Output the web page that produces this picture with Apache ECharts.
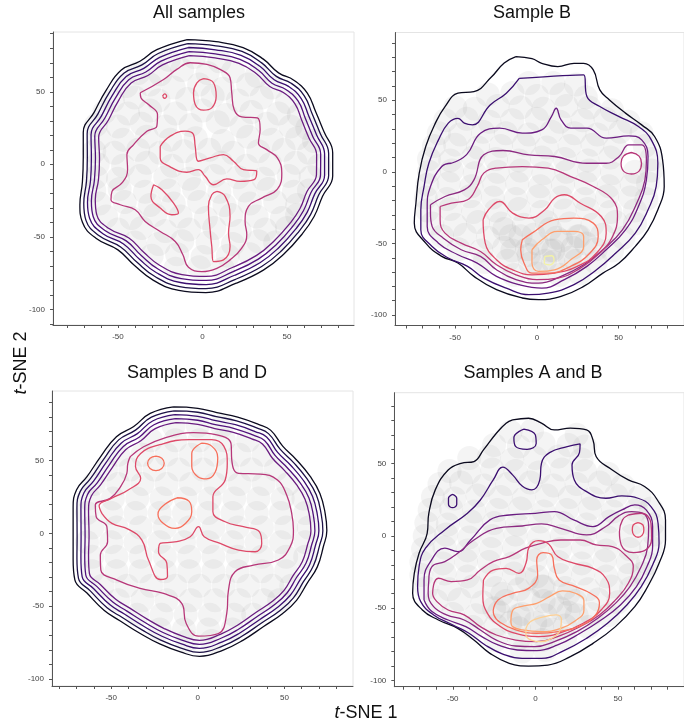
<!DOCTYPE html>
<html>
<head>
<meta charset="utf-8">
<script src="https://cdn.jsdelivr.net/npm/echarts@6/dist/echarts.min.js"></script>
<style>
html, body { margin: 0; padding: 0; background: #fff; }
#chart { width: 684px; height: 725px; }
</style>
</head>
<body>
<div id="chart"></div>
<script>
// titles of the four panels
const panelTitles = ['All samples', 'Sample B', 'Samples B and D', 'Samples A and B'];

// contour level colours (magma-like, outer level first)
const levelColors = ['#0b0a1e', '#1d1147', '#3b0f70', '#51127c', '#6a1c81', '#8c2981',
    '#b73779', '#de4968', '#f7705c', '#fe9f6d', '#fecf92', '#f3f2a6'];

// tick values
const xTickValues = [-80, -70, -60, -50, -40, -30, -20, -10, 0, 10, 20, 30, 40, 50, 60, 70, 80];
const yTickValues = [-110, -100, -90, -80, -70, -60, -50, -40, -30, -20, -10, 0, 10, 20, 30, 40, 50, 60, 70, 80, 90];
const xLabelValues = [-50, 0, 50];
const yLabelValues = [-100, -50, 0, 50];

// ---------- panel 1 : All samples ----------
const p1Ring1 = [[-9,86],[8,84.5],[24,80.5],[36,72.5],[45,63],[54,58],[62,49],[67,36],[72,22],[77,8],[77,-8],[71,-22],[66,-36],[59,-48],[48,-62],[36,-73],[20,-82],[2,-88.5],[-14,-87],[-29,-80],[-40,-70],[-50,-59],[-63,-51],[-71,-40],[-72.5,-28],[-71,-12],[-70.5,5],[-70.5,22],[-64,36],[-57,51],[-48,65],[-37,71],[-27,79]];
const p1Ring2 = [[-8.7,83.2],[7.9,81.7],[23.4,77.8],[35,69.9],[43.7,60.6],[52.4,55.9],[60.2,47.2],[64.9,34.6],[69.7,21.1],[74.6,7.6],[74.6,-7.8],[68.7,-21.2],[63.9,-34.7],[57.1,-46.2],[46.6,-59.8],[35,-70.5],[19.5,-79.3],[2,-85.7],[-13.5,-84.3],[-28.1,-77.4],[-38.7,-67.6],[-48.4,-57],[-61.1,-49.3],[-68.9,-38.7],[-70.2,-27.1],[-68.6,-11.6],[-68.1,4.7],[-68.2,21.1],[-61.9,34.6],[-55.2,49.2],[-46.5,62.8],[-35.8,68.5],[-26.2,76.4]];
const p1Ring3 = [[-8.4,80.5],[7.7,78.9],[22.8,75.1],[34.1,67.4],[42.4,58.3],[50.9,53.7],[58.4,45.3],[62.9,33.1],[67.5,20.2],[72.2,7.2],[72.2,-7.5],[66.4,-20.4],[61.8,-33.3],[55.3,-44.4],[45.1,-57.5],[34,-67.9],[19,-76.5],[2.1,-82.9],[-13.1,-81.5],[-27.2,-74.8],[-37.4,-65.3],[-46.7,-54.9],[-59.1,-47.7],[-66.7,-37.4],[-68,-26.2],[-66.2,-11.2],[-65.7,4.5],[-65.9,20.3],[-59.8,33.2],[-53.4,47.3],[-45.1,60.5],[-34.7,66.1],[-25.3,73.7]];
const p1Ring4 = [[-8,77.7],[7.6,76.1],[22.2,72.4],[33.1,64.8],[41.1,55.9],[49.3,51.6],[56.6,43.5],[60.8,31.7],[65.2,19.2],[69.9,6.9],[69.8,-7.3],[64.1,-19.6],[59.7,-32],[53.4,-42.7],[43.7,-55.3],[33,-65.4],[18.5,-73.8],[2.1,-80.1],[-12.6,-78.8],[-26.3,-72.2],[-36.2,-62.9],[-45.1,-52.8],[-57.2,-46],[-64.6,-36.2],[-65.7,-25.3],[-63.9,-10.9],[-63.3,4.2],[-63.7,19.4],[-57.7,31.9],[-51.6,45.4],[-43.6,58.3],[-33.5,63.6],[-24.5,71.1]];
const p1Ring5 = [[-7.7,74.9],[7.4,73.3],[21.6,69.6],[32.1,62.3],[39.8,53.6],[47.8,49.5],[54.7,41.7],[58.7,30.3],[62.9,18.3],[67.5,6.5],[67.4,-7.1],[61.8,-18.8],[57.6,-30.7],[51.6,-40.9],[42.2,-53],[32,-62.8],[18,-71],[2.1,-77.3],[-12.1,-76],[-25.4,-69.6],[-34.9,-60.5],[-43.5,-50.8],[-55.3,-44.3],[-62.5,-34.9],[-63.4,-24.4],[-61.5,-10.5],[-60.9,3.9],[-61.4,18.5],[-55.6,30.5],[-49.8,43.6],[-42.2,56.1],[-32.3,61.2],[-23.6,68.5]];
const p1Wavy = [[-36.8,49.3],[-23,58.5],[-15.2,65.4],[-7.3,70],[2.6,68.9],[10.4,65.4],[16.3,59.7],[17.3,49.3],[18.7,37.8],[23.2,32.7],[32.5,32],[34.1,24],[33.1,14.7],[38,10.1],[44.3,4.4],[46.9,-6],[44.3,-17.1],[35,-23.3],[27.2,-29],[25.2,-39.4],[26.2,-48.6],[23.2,-57.8],[16.3,-65.9],[8.5,-71.7],[-0.4,-74],[-8.3,-71],[-11.6,-62.4],[-16.1,-53.2],[-25,-46.3],[-33.9,-39.4],[-39.8,-31.3],[-48.6,-27.9],[-54.1,-24.4],[-53.5,-18.7],[-47.6,-12.9],[-44.3,-3.7],[-44.7,6.7],[-40.7,13.6],[-32.9,22.8],[-27,26.3],[-26.6,34.3],[-31.9,41.2],[-36.4,45.9]];
const p1RedTop = [[0.6,59],[6.5,56.2],[8.1,47],[5.5,38.9],[0.6,37.3],[-4.3,41.2],[-5.3,49.3],[-3.3,56.2]];
const p1RedDot = [[-23.6,47],[-22.4,48.5],[-21.2,47],[-22.4,45.5]];
const p1RedMid = [[-25,12.4],[-19.1,19.4],[-10.2,22.8],[-5.3,20.5],[-4.3,12.4],[-2.4,2.1],[4.5,4.4],[12.4,6.7],[18.3,2.1],[24.2,-3.7],[32.1,-4.8],[30.5,-10.6],[22.2,-11.8],[14.4,-10.1],[6.5,-14.1],[1.6,-8.3],[-2.4,-3.7],[-9.3,-5.5],[-19.1,-1.8],[-25,4.4]];
const p1RedLeft = [[-28.9,-14.1],[-24,-17.5],[-17.1,-26.7],[-14.2,-33.6],[-18.1,-34.8],[-25,-30.2],[-30.5,-22.1]];
const p1RedLow = [[8.5,-18.7],[13.4,-22.1],[16.3,-35.9],[15.4,-47.5],[16.3,-56.7],[12.4,-65.9],[6.5,-67.1],[5.5,-56.7],[4.5,-45.2],[3.5,-29],[5.5,-21]];
const p1Dots = [[-20,72],[-5,74],[10,71],[-38,63],[-25,62],[-12,65],[3,63],[18,64],[32,61],[-45,54],[-31,55],[-17,53],[-2,55],[12,52],[27,55],[41,53],[-53,44],[-40,46],[-26,44],[-9,45],[6,47],[21,44],[35,46],[50,43],[-58,36],[-44,35],[-31,37],[-16,35],[0,37],[14,34],[29,36],[45,35],[57,34],[-63,27],[-50,26],[-36,28],[-22,26],[-7,27],[9,29],[23,26],[38,28],[52,26],[62,25],[-61,18],[-47,17],[-33,19],[-19,17],[-4,18],[12,16],[27,19],[41,17],[56,18],[66,16],[-64,9],[-52,8],[-38,10],[-25,8],[-11,9],[4,10],[18,8],[33,9],[48,10],[63,8],[-62,0],[-47,-1],[-33,1],[-18,-1],[-3,0],[11,1],[26,-1],[40,0],[55,1],[69,-1],[-63,-9],[-50,-10],[-37,-8],[-22,-9],[-8,-10],[7,-8],[21,-9],[36,-10],[51,-8],[64,-9],[-64,-18],[-49,-17],[-34,-19],[-20,-18],[-5,-17],[10,-19],[25,-18],[39,-17],[54,-19],[63,-18],[-61,-27],[-46,-26],[-31,-28],[-17,-27],[-2,-26],[13,-28],[28,-27],[43,-26],[56,-28],[-57,-36],[-42,-37],[-28,-35],[-13,-36],[2,-37],[17,-35],[32,-36],[47,-37],[56,-35],[-50,-45],[-36,-44],[-22,-46],[-8,-45],[7,-44],[22,-46],[37,-45],[50,-44],[-40,-54],[-26,-55],[-12,-53],[3,-54],[18,-55],[33,-53],[43,-54],[-30,-63],[-15,-62],[0,-64],[15,-63],[28,-62],[-16,-72],[-2,-71],[12,-72]];

// ---------- panel 2 : Sample B ----------
const p2Ring1 = [[-12.8,80.5],[-3,79],[3,75.8],[12.8,73.5],[22.7,75.8],[28.6,75.8],[34.5,71.2],[38.5,57.2],[44.4,50.2],[54.2,41],[64.1,32.8],[72,24.7],[76.9,8.4],[77.9,-10.2],[74,-26.5],[68,-40.5],[60.2,-52],[50.3,-63.7],[40.4,-70.7],[28.6,-80],[14.8,-87],[1,-89.3],[-8.9,-88.1],[-24.7,-82.3],[-38.5,-73],[-48.3,-63.7],[-58.2,-59],[-68,-49.8],[-75,-35.8],[-74,-21.9],[-72,-1],[-68,17.7],[-62.1,34],[-56.2,45.6],[-48.3,54.9],[-38.5,56],[-28,66],[-20,76]];
const p2Ring2 = [[-10.8,65.3],[28.6,67.7],[30.6,52.6],[38.5,45.6],[50.3,38.6],[62.1,31.6],[70,22.3],[74,6],[73,-10.2],[68,-26.5],[60.2,-42.8],[48.3,-56.7],[36.5,-68.4],[22.7,-78.8],[6.9,-84.7],[-4.9,-85.8],[-18.7,-81.2],[-32.5,-74.2],[-42.4,-66],[-54.2,-60.2],[-64.1,-52.1],[-71,-40.5],[-71,-26.5],[-69,-10.2],[-66.1,6],[-60.2,22.3],[-54.2,34],[-48.3,37.4],[-44.4,34],[-39.4,32.8],[-28.6,46.7],[-18.7,54.9]];
const p2Ring3 = [[-52.3,6],[-43,12],[-34.5,27],[-22.7,30.5],[-8.9,27],[3,29.3],[8.9,38.6],[11.8,44.4],[14.8,36.3],[20.7,30.5],[30.6,30.5],[42.4,23.5],[56.2,25.1],[64.1,22.3],[68,10.7],[67,-5.6],[62.1,-24.2],[54.2,-40.5],[42.4,-54.4],[30.6,-66],[16.8,-75.3],[3,-81.2],[-10.8,-78.8],[-24.7,-73],[-36.5,-63.7],[-48.3,-57.9],[-60.2,-49.8],[-67.1,-38.1],[-67.1,-24.2],[-65.1,-10.2],[-58.2,3.7]];
const p2Ring4 = [[-65.1,-23],[-56.2,-17.2],[-44.4,-12.6],[-38.5,-5.6],[-32.5,11.9],[-20.7,14.9],[-4.9,11.9],[10.8,10.7],[30.6,6],[42.4,6],[50.3,10.7],[56.2,18.8],[64.1,18.8],[67,8],[66.1,-5.6],[61.1,-21.9],[52.3,-40.5],[40.4,-54.4],[28.6,-64.9],[14.8,-73],[1,-77.7],[-12.8,-75.3],[-24.7,-68.4],[-34.5,-59],[-46.3,-54.4],[-57.2,-46.3],[-64.1,-38.1],[-65.1,-28.8]];
const p2Ring5 = [[-59.2,-24.2],[-52.3,-21.9],[-42.4,-19.5],[-36.5,-10.2],[-32.5,-0.9],[-24.7,2.6],[-8.9,3.7],[6.9,2.6],[20.7,-3.3],[34.5,-10.2],[46.3,-19.5],[49.3,-31.2],[46.3,-45.1],[38.5,-56.7],[26.6,-67.2],[12.8,-74.2],[0,-75.3],[-12.8,-71.9],[-24.7,-64.9],[-34.5,-55.6],[-46.3,-49.8],[-56.2,-42.8],[-59.2,-33.5]];
const p2Ring6 = [[-32.9,-33.5],[-29.6,-26.5],[-22.7,-20.7],[-14.8,-28.8],[-4.9,-32.3],[4.9,-26.5],[10.8,-18.4],[16.8,-16],[26.6,-21.9],[39.4,-31.2],[42.4,-42.8],[36.5,-56.7],[24.7,-66],[10.8,-70.7],[-3,-71.9],[-14.8,-68.4],[-24.7,-61.4],[-31.6,-49.8]];
const p2RightBlob = [[57.8,13.5],[62.5,11],[64,6],[62.5,0.5],[57.8,-1.5],[53,0.5],[51.5,6],[53,11]];
const p2Ring7 = [[-8.9,-47.4],[-3,-42.8],[10.8,-33.5],[22.7,-32.3],[34.5,-35.8],[37.5,-45.1],[32.5,-56.7],[20.7,-66],[6.9,-70.7],[-3,-70.7],[-7.9,-63.7],[-9.9,-54.4]];
const p2Ring8 = [[-3,-54.4],[3,-47.4],[12.8,-41.6],[22.7,-41.6],[28.6,-45.1],[28.6,-52.1],[20.7,-61.4],[10.8,-68.4],[1,-69.5],[-3,-63.7]];
const p2Ring9 = [[4.9,-59],[8.9,-58.6],[10.5,-61.9],[7.9,-64.9],[4.5,-63.7]];
const p2Dots = [[-5,62],[10,62],[24,61],[-30,54],[-15,55],[0,53],[15,54],[30,52],[-50,45],[-38,44],[-24,46],[-10,45],[4,44],[18,46],[32,45],[46,43],[-56,36],[-43,37],[-29,35],[-15,36],[0,37],[14,35],[28,36],[42,37],[56,35],[-60,27],[-47,26],[-33,28],[-19,27],[-5,26],[9,28],[23,27],[37,26],[51,28],[64,27],[-63,18],[-50,19],[-36,17],[-22,18],[-8,19],[6,17],[20,18],[34,19],[48,17],[66,18],[-66,9],[-53,8],[-39,10],[-25,9],[-11,8],[3,10],[17,9],[31,8],[45,10],[70,9],[-66,0],[-52,1],[-38,-1],[-24,0],[-10,1],[4,-1],[18,0],[32,1],[46,-1],[60,0],[70,1],[-67,-9],[-54,-8],[-40,-10],[-26,-9],[-12,-8],[2,-10],[16,-9],[30,-8],[44,-10],[58,-9],[68,-8],[-68,-18],[-55,-19],[-41,-17],[-27,-18],[-13,-19],[1,-17],[15,-18],[29,-19],[43,-17],[57,-18],[67,-19],[-67,-27],[-53,-26],[-39,-28],[-25,-27],[-11,-26],[3,-28],[17,-27],[31,-26],[45,-28],[60,-27],[-64,-36],[-50,-37],[-36,-35],[-22,-36],[-8,-37],[6,-35],[20,-36],[34,-37],[48,-35],[60,-36],[-58,-45],[-44,-44],[-30,-46],[-16,-45],[-2,-44],[12,-46],[26,-45],[40,-44],[53,-46],[-48,-54],[-34,-55],[-20,-53],[-6,-54],[8,-55],[22,-53],[36,-54],[46,-55],[-32,-63],[-18,-62],[-4,-64],[10,-63],[24,-62],[36,-63],[-14,-72],[0,-71],[14,-72],[26,-71],[0,-50],[10,-55],[5,-62],[-5,-58],[15,-48],[20,-60],[-10,-45],[8,-40],[25,-45],[-15,-55],[-20,-40],[30,-50]];

// ---------- panel 3 : Samples B and D ----------
const p3Ring1 = [[-14,87],[0,86],[11,83],[23,80],[35,75],[42,71],[49,60],[57,50.5],[65,39],[70.5,27.5],[73.5,14],[74.5,2],[72.5,-9],[69,-23],[63,-34.5],[57,-46],[49,-55],[38,-64],[26,-73.5],[15,-80],[1,-84.5],[-10,-81.5],[-22,-76],[-33,-69],[-45,-60],[-54,-53],[-64,-41],[-71,-32],[-72,-18],[-72,-2],[-72,18],[-70,30],[-64,39],[-56,53],[-47,66.5],[-37,73.5],[-27.5,82.5]];
const p3Ring2 = [[-13.6,84.3],[0,83.3],[10.7,80.3],[22.4,77.4],[34,72.5],[40.8,68.6],[47.5,57.9],[55.3,48.7],[63,37.6],[68.4,26.5],[71.2,13.5],[72.2,1.9],[70.2,-8.7],[66.8,-22.1],[61,-33.2],[55.2,-44.3],[47.5,-53],[36.8,-61.6],[25.2,-70.9],[14.6,-77.3],[1,-81.8],[-9.7,-78.8],[-21.4,-73.4],[-32,-66.5],[-43.6,-57.8],[-52.4,-51.1],[-62.1,-39.5],[-68.9,-30.9],[-69.8,-17.3],[-69.7,-1.9],[-69.8,17.3],[-67.9,28.9],[-62,37.6],[-54.3,51.1],[-45.7,64.3],[-36,71],[-26.8,79.9]];
const p3Ring3 = [[-13.3,81.6],[0,80.5],[10.4,77.5],[21.7,74.7],[33.1,70],[39.7,66.3],[46.1,55.7],[53.6,46.9],[61.1,36.2],[66.2,25.5],[69,13],[69.9,1.9],[67.9,-8.3],[64.6,-21.3],[59,-31.9],[53.4,-42.5],[45.9,-50.9],[35.6,-59.3],[24.5,-68.3],[14.2,-74.6],[0.9,-79],[-9.4,-76],[-20.7,-70.7],[-31,-64],[-42.2,-55.6],[-50.7,-49.1],[-60.1,-38],[-66.8,-29.7],[-67.5,-16.7],[-67.4,-1.8],[-67.5,16.7],[-65.8,27.8],[-60.1,36.1],[-52.7,49.2],[-44.3,62],[-34.9,68.6],[-26.1,77.3]];
const p3Ring4 = [[-12.9,78.9],[0,77.8],[10.1,74.8],[21.1,72.1],[32.1,67.5],[38.5,63.9],[44.6,53.6],[51.8,45],[59.1,34.7],[64.1,24.5],[66.7,12.5],[67.6,1.8],[65.7,-8],[62.5,-20.4],[56.9,-30.5],[51.6,-40.8],[44.4,-48.9],[34.5,-56.9],[23.7,-65.7],[13.7,-71.9],[0.9,-76.3],[-9.2,-73.3],[-20.1,-68.1],[-30,-61.6],[-40.9,-53.4],[-49.1,-47.2],[-58.2,-36.6],[-64.7,-28.6],[-65.3,-16],[-65.1,-1.8],[-65.3,16],[-63.7,26.8],[-58.1,34.7],[-51,47.3],[-43,59.8],[-33.9,66.1],[-25.3,74.7]];
const p3Ring5 = [[-12.5,76.2],[0,75],[9.8,72.1],[20.5,69.4],[31.1,65],[37.3,61.5],[43.2,51.5],[50.1,43.2],[57.1,33.3],[61.9,23.5],[64.5,12],[65.3,1.7],[63.4,-7.6],[60.3,-19.5],[54.9,-29.2],[49.8,-39.1],[42.9,-46.8],[33.3,-54.5],[22.9,-63.1],[13.3,-69.2],[0.9,-73.5],[-8.9,-70.6],[-19.4,-65.4],[-29,-59.1],[-39.5,-51.2],[-47.4,-45.3],[-56.3,-35.1],[-62.6,-27.5],[-63.1,-15.3],[-62.8,-1.7],[-63.1,15.3],[-61.5,25.7],[-56.2,33.3],[-49.3,45.4],[-41.7,57.5],[-32.9,63.7],[-24.6,72]];
const p3Wavy = [[-39,52.8],[-31.3,59.6],[-19.8,65.4],[-2.5,69.3],[11,67.7],[19.2,61.5],[19.6,50.5],[23.5,41.3],[36,40.8],[46,36.7],[51.3,26.4],[54.2,13.8],[55.2,2.3],[53.3,-9.2],[46.5,-18.3],[32.1,-21.8],[21.5,-26.4],[17.7,-39],[16.7,-55],[11.9,-68.8],[0.4,-70.6],[-6.7,-61.9],[-9.2,-48.2],[-19.8,-41.3],[-33.3,-37.8],[-46.7,-32.1],[-56,-25.2],[-56.3,-14.9],[-52.1,-5.7],[-52.5,4.6],[-58.7,11.5],[-59.2,19.5],[-50.6,24.1],[-45.2,31],[-41,41.3],[-40.4,48.2]];
const p3RedBig = [[-55.4,13.8],[-49.6,6.9],[-40,2.8],[-32.3,-4.6],[-28.5,-18.3],[-21.7,-31.7],[-17.5,-29.4],[-17.9,-20.6],[-22.7,-12.6],[-21.7,-6.9],[-12.1,-5.7],[-4.4,-2.3],[0.4,4.6],[3.7,-2.3],[12.9,-6.9],[23.5,-11.5],[33.1,-12.6],[36.9,-6.9],[35.6,1.1],[26.3,4.6],[15.8,8],[8.7,14.9],[8.7,25.2],[15.8,36.7],[17,48],[15,60],[8,64.5],[-5,64.5],[-22,61],[-33,55],[-36,46],[-33,38],[-40,30],[-50,24],[-57,19]];
const p3RedSmall = [[-24.2,53.2],[-20.8,51.7],[-19.4,48.2],[-20.8,44.7],[-24.2,43.2],[-27.6,44.7],[-29,48.2],[-27.6,51.7]];
const p3RedTop = [[2,62],[8,60],[11.5,52],[10,42],[5,37.5],[0,39],[-3.5,46],[-3.5,55]];
const p3RedMid = [[-12,24.5],[-5,22],[-3.5,15],[-7,7],[-13,3.5],[-20,7],[-23,13],[-19,20]];
const p3Dots = [[-14,74],[0,74],[14,74],[-27,64],[-13,64],[1,64],[15,64],[29,64],[-46,54],[-32,54],[-18,54],[-4,54],[10,54],[24,54],[38,54],[-53,44],[-39,44],[-25,44],[-11,44],[3,44],[17,44],[31,44],[45,44],[-60,34],[-46,34],[-32,34],[-18,34],[-4,34],[10,34],[24,34],[38,34],[52,34],[-63,24],[-49,24],[-35,24],[-21,24],[-7,24],[7,24],[21,24],[35,24],[49,24],[61,24],[-64,14],[-50,14],[-36,14],[-22,14],[-8,14],[6,14],[20,14],[34,14],[48,14],[62,14],[-61,4],[-47,4],[-33,4],[-19,4],[-5,4],[9,4],[23,4],[37,4],[51,4],[64,4],[-64,-6],[-50,-6],[-36,-6],[-22,-6],[-8,-6],[6,-6],[20,-6],[34,-6],[48,-6],[62,-6],[-61,-16],[-47,-16],[-33,-16],[-19,-16],[-5,-16],[9,-16],[23,-16],[37,-16],[51,-16],[62,-16],[-61,-26],[-47,-26],[-33,-26],[-19,-26],[-5,-26],[9,-26],[23,-26],[37,-26],[51,-26],[-55,-36],[-41,-36],[-27,-36],[-13,-36],[1,-36],[15,-36],[29,-36],[43,-36],[54,-36],[-46,-46],[-32,-46],[-18,-46],[-4,-46],[10,-46],[24,-46],[38,-46],[47,-46],[-35,-56],[-21,-56],[-7,-56],[7,-56],[21,-56],[32,-56],[-22,-66],[-8,-66],[6,-66],[20,-66],[-6,-74],[8,-74]];

// ---------- panel 4 : Samples A and B ----------
const p4Ring1 = [[-13.8,80.4],[-4.1,81.5],[3.7,78.1],[11.5,73.4],[21.2,74.6],[31,73.4],[34.9,66.5],[36.8,55],[46.6,45.7],[56.3,38.8],[66.1,34.2],[73.9,24.9],[78.8,11.1],[78.8,-2.8],[74.9,-18.9],[68,-35.1],[60.2,-49],[48.5,-62.8],[34.9,-74.4],[21.2,-83.6],[7.6,-89.4],[-4.1,-90.1],[-15.8,-88.2],[-27.5,-81.3],[-37.2,-72.1],[-47,-64],[-58.7,-58.2],[-68.4,-51.3],[-74.3,-39.7],[-73.3,-25.9],[-70.4,-12],[-65.5,1.8],[-64.5,15.7],[-60.6,31.9],[-52.8,45.7],[-45,50.3],[-37.2,51.5],[-31.4,59.6],[-23.6,71.1],[-17.7,78.1]];
const p4Ring2 = [[-71.3,-35.1],[-70.4,-21.2],[-66.5,-8.5],[-54.8,4.2],[-41.1,15.7],[-33.3,24.9],[-25.5,38.8],[-19.7,47.6],[-13.8,42.3],[-8,34.6],[-2.1,31.9],[2.7,38.8],[3.7,50.3],[8.6,57.7],[19.3,61.9],[27.1,63.7],[26.7,57.7],[22.2,49.2],[23.6,38.8],[31,30.7],[42.7,26.1],[52.4,27.7],[62.2,26.1],[70,20.3],[74.3,8.8],[74.9,-5.1],[71,-20.1],[64.1,-35.1],[55.4,-47.8],[43.7,-60.5],[31,-70.9],[17.3,-79.4],[3.7,-84.8],[-8,-84.8],[-19.7,-81.8],[-30.4,-75.5],[-40.2,-67.4],[-49.9,-61.7],[-61.6,-54.7],[-69.4,-45.5]];
const p4TopLoop = [[-7,74],[0,70],[0.5,64],[-5,60],[-12,62],[-13,68]];
const p4LeftLoop = [[-50.1,28.8],[-47.6,26],[-47.6,22],[-50.1,19.6],[-52.6,22],[-52.6,26]];
const p4Ring3 = [[-67.4,-44.3],[-67.4,-30.5],[-63.5,-17.8],[-54.8,-8.5],[-47,-10.9],[-39.2,-2.8],[-27.5,11.1],[-15.8,14.5],[0,15.7],[11.5,16.9],[23.2,11.1],[34.9,6.5],[44.6,13.4],[52.4,18],[60.2,21.5],[67.1,18],[71,6.5],[71,-7.4],[67.6,-21.2],[61.2,-35.1],[51.5,-47.8],[39.8,-58.2],[27.1,-67.4],[13.5,-75.5],[0.8,-79.4],[-10.9,-79],[-22.6,-75.5],[-32.4,-69.7],[-42.1,-62.8],[-52.8,-58.2],[-62.6,-52.4]];
const p4Ring4 = [[-64.5,-30.5],[-62.6,-21.2],[-54.8,-17.8],[-47,-12],[-37.2,-2.8],[-23.6,5.3],[-8,6.9],[3.7,8.3],[15.4,5.3],[31,0.7],[42.7,6.5],[50.5,13.9],[58.3,16.9],[65.1,15.7],[68.6,6.5],[68,-7.4],[64.1,-21.2],[57.3,-35.1],[48.5,-46.7],[37.8,-57],[25.1,-66.3],[11.5,-73.2],[-0.2,-76.7],[-11.9,-76.2],[-23.6,-72.1],[-33.3,-65.1],[-43.1,-58.2],[-53.8,-54.7],[-61.6,-49],[-64.9,-39.7]];
const p4Ring5 = [[-61.6,-33.9],[-58.7,-29.3],[-50.9,-31.6],[-41.1,-30.5],[-33.3,-23.6],[-25.5,-17.8],[-15.8,-14.3],[-6,-8.5],[3.7,-5.1],[15.4,-2.8],[27.1,-2.8],[36.8,-6.2],[46.6,-7.4],[54.4,-13.2],[59.3,-21.2],[56.3,-32.8],[48.5,-44.3],[38.8,-54.7],[27.1,-62.8],[13.5,-69.7],[0.8,-73.2],[-11.9,-72.1],[-23.6,-68.6],[-33.3,-62.8],[-43.1,-54.7],[-52.8,-51.3],[-59.6,-45.5],[-62.2,-39.7]];
const p4RightLoop = [[56.3,14.5],[64.1,15.7],[70,8.8],[70.4,-1.6],[66.1,-10.2],[59.3,-11.5],[52,-6.2],[50.9,3],[52.8,11.1]];
const p4RightBlob = [[62.2,9.3],[65.2,7.5],[65.7,4.2],[64.7,0.6],[62.2,-0.9],[59.7,0.6],[58.7,4.2],[59.2,7.5]];
const p4Ring6 = [[-31.4,-30.5],[-25.5,-23.6],[-17.7,-22.4],[-9.9,-25.9],[-5.7,-18.9],[-3.7,-7.4],[1.8,-3.2],[8,-5.5],[13.5,-14.3],[23.2,-18.9],[34.9,-22.4],[42.7,-29.3],[45,-39.7],[39.8,-51.3],[29,-60.5],[15.4,-67],[1.8,-69.7],[-11.9,-67.4],[-21.6,-62.4],[-29,-53.6],[-31.8,-42]];
const p4Ring7 = [[-25.5,-51.3],[-22.6,-44.3],[-13.8,-39.7],[-4.1,-36.3],[1.4,-27],[0.8,-16.6],[4.7,-11.5],[9.9,-13.2],[11.5,-22.4],[14.4,-30.5],[24.2,-35.1],[33.3,-39.7],[38.8,-46.2],[36.5,-54.7],[27.1,-62.4],[13.8,-66.3],[0.8,-67.4],[-11.9,-65.1],[-21.2,-60],[-25.1,-54.7]];
const p4Ring8 = [[-14.8,-59.4],[-13.8,-51.7],[-7,-48.5],[0.8,-46.7],[8.6,-42],[16.4,-38.1],[24.2,-39.7],[29.4,-44.8],[29.4,-51.7],[24.2,-58.7],[15.4,-64],[3.7,-66.3],[-8,-65.1],[-13.8,-62.8]];
const p4Ring9 = [[-5.7,-64],[-3.1,-59.4],[3.7,-56.4],[12.5,-54.7],[15.8,-57.7],[15,-65.1],[9.9,-70.9],[3.3,-73.2],[-2.5,-72.1],[-5.7,-68.6]];
const p4Dots = [[-15,72],[-2,73],[25,70],[-25,63],[-10,62],[5,64],[20,63],[30,62],[-40,54],[-28,55],[-14,53],[0,54],[14,55],[28,53],[-52,45],[-40,44],[-26,46],[-12,45],[2,44],[16,46],[30,45],[44,43],[-58,36],[-45,37],[-31,35],[-17,36],[-3,37],[11,35],[25,36],[39,37],[53,35],[-62,27],[-49,26],[-35,28],[-21,27],[-7,26],[7,28],[21,27],[35,26],[49,28],[63,27],[-64,18],[-51,19],[-37,17],[-23,18],[-9,19],[5,17],[19,18],[33,19],[47,17],[61,18],[70,19],[-66,9],[-53,8],[-39,10],[-25,9],[-11,8],[3,10],[17,9],[31,8],[45,10],[59,9],[71,8],[-67,0],[-54,1],[-40,-1],[-26,0],[-12,1],[2,-1],[16,0],[30,1],[44,-1],[58,0],[72,1],[-68,-9],[-55,-8],[-41,-10],[-27,-9],[-13,-8],[1,-10],[15,-9],[29,-8],[43,-10],[57,-9],[70,-8],[-69,-18],[-56,-19],[-42,-17],[-28,-18],[-14,-19],[0,-17],[14,-18],[28,-19],[42,-17],[56,-18],[68,-19],[-69,-27],[-55,-26],[-41,-28],[-27,-27],[-13,-26],[1,-28],[15,-27],[29,-26],[43,-28],[57,-27],[65,-26],[-66,-36],[-52,-37],[-38,-35],[-24,-36],[-10,-37],[4,-35],[18,-36],[32,-37],[46,-35],[58,-36],[-60,-45],[-46,-44],[-32,-46],[-18,-45],[-4,-44],[10,-46],[24,-45],[38,-44],[50,-46],[-50,-54],[-36,-55],[-22,-53],[-8,-54],[6,-55],[20,-53],[34,-54],[44,-55],[-38,-63],[-24,-62],[-10,-64],[4,-63],[18,-62],[32,-63],[-24,-72],[-10,-71],[4,-72],[18,-71],[-8,-80],[6,-79],[-20,-40],[-5,-30],[5,-45],[15,-50],[0,-60],[10,-65],[-10,-55],[20,-40],[-15,-60],[25,-55],[5,-35],[-25,-50]];

// contour lists: [points, level]
const p1Contours = [[p1Ring1,0],[p1Ring2,1],[p1Ring3,2],[p1Ring4,3],[p1Ring5,4],[p1Wavy,6],[p1RedTop,7],[p1RedDot,7],[p1RedMid,7],[p1RedLeft,7],[p1RedLow,7]];
const p2Contours = [[p2Ring1,0],[p2Ring2,2],[p2Ring3,4],[p2Ring4,5],[p2Ring5,6],[p2RightBlob,6],[p2Ring6,7],[p2Ring7,8],[p2Ring8,9],[p2Ring9,11]];
const p3Contours = [[p3Ring1,0],[p3Ring2,1],[p3Ring3,2],[p3Ring4,3],[p3Ring5,4],[p3Wavy,6],[p3RedBig,7],[p3RedSmall,8],[p3RedTop,8],[p3RedMid,8]];
const p4Contours = [[p4Ring1,0],[p4Ring2,2],[p4TopLoop,2],[p4LeftLoop,2],[p4Ring3,4],[p4Ring4,5],[p4Ring5,6],[p4RightLoop,6],[p4RightBlob,7],[p4Ring6,7],[p4Ring7,8],[p4Ring8,9],[p4Ring9,10]];

// panel layout (pixels) and axis ranges
const panels = [
    { left: 53, top: 32, width: 301, height: 293, x: [-88.4, 89.6], y: [-110.8, 91.2], tx: 199, ty: 13, contours: p1Contours, dots: p1Dots },
    { left: 395, top: 32.5, width: 299, height: 293, x: [-86.8, 90], y: [-107.3, 97.3], tx: 532, ty: 13, contours: p2Contours, dots: p2Dots },
    { left: 52, top: 391, width: 301, height: 295, x: [-84.2, 89.6], y: [-104.9, 97.9], tx: 197, ty: 373, contours: p3Contours, dots: p3Dots },
    { left: 394.3, top: 392.7, width: 300, height: 294, x: [-85.4, 90], y: [-104.4, 99.2], tx: 533, ty: 373, contours: p4Contours, dots: p4Dots }
];

const chart = echarts.init(document.getElementById('chart'), null, { renderer: 'canvas' });

const option = {
    animation: false,
    backgroundColor: '#fff',
    grid: [], xAxis: [], yAxis: [], series: [],
    graphic: []
};

const axisColor = '#555';

panels.forEach((p, i) => {
    option.grid.push({
        left: p.left, top: p.top, width: p.width, height: p.height,
        show: true, borderColor: '#e4e4e4', borderWidth: 1, backgroundColor: 'transparent'
    });
    option.xAxis.push({
        type: 'value', gridIndex: i, min: p.x[0], max: p.x[1],
        axisLine: { onZero: false, lineStyle: { color: axisColor, width: 1 } },
        axisTick: { customValues: xTickValues.filter(v => v > p.x[0] && v < p.x[1]), length: 3, lineStyle: { color: axisColor } },
        axisLabel: { customValues: xLabelValues, fontSize: 8, color: '#444', margin: 8, fontFamily: 'Liberation Sans' },
        splitLine: { show: false }
    });
    option.yAxis.push({
        type: 'value', gridIndex: i, min: p.y[0], max: p.y[1],
        axisLine: { onZero: false, lineStyle: { color: axisColor, width: 1 } },
        axisTick: { customValues: yTickValues.filter(v => v > p.y[0] && v < p.y[1]), length: 3, lineStyle: { color: axisColor } },
        axisLabel: { customValues: yLabelValues, fontSize: 8, color: '#444', margin: 8, fontFamily: 'Liberation Sans' },
        splitLine: { show: false }
    });
    // grey point cloud, drawn as soft overlapping dots
    option.series.push({
        type: 'scatter', xAxisIndex: i, yAxisIndex: i, data: p.dots,
        symbolSize: 24, itemStyle: { color: '#8a8a8a', opacity: 0.09 }, silent: true, z: 1
    });
    // density contours
    p.contours.forEach(c => {
        const pts = c[0].concat([c[0][0]]);
        option.series.push({
            type: 'line', xAxisIndex: i, yAxisIndex: i, data: pts,
            smooth: 0.45, symbol: 'none', silent: true, z: 3,
            lineStyle: { color: levelColors[c[1]], width: 1.3 }
        });
    });
    option.graphic.push({
        type: 'text', x: p.tx, y: p.ty,
        style: { text: panelTitles[i], fill: '#111', font: '18px "Liberation Sans", Arial, sans-serif', textAlign: 'center', textVerticalAlign: 'middle' }
    });
});

// shared axis titles
const axisTitleRich = {
    i: { fontStyle: 'italic', fontSize: 18, fontFamily: 'Liberation Sans', fill: '#111' },
    n: { fontSize: 18, fontFamily: 'Liberation Sans', fill: '#111' }
};
option.graphic.push({
    type: 'text', x: 366, y: 713,
    style: { text: '{i|t}{n|-SNE 1}', textAlign: 'center', textVerticalAlign: 'middle', fill: '#111', rich: axisTitleRich }
});
option.graphic.push({
    type: 'text', x: 21, y: 363, rotation: Math.PI / 2,
    style: { text: '{i|t}{n|-SNE 2}', textAlign: 'center', textVerticalAlign: 'middle', fill: '#111', rich: axisTitleRich }
});

chart.setOption(option);
</script>
</body>
</html>
